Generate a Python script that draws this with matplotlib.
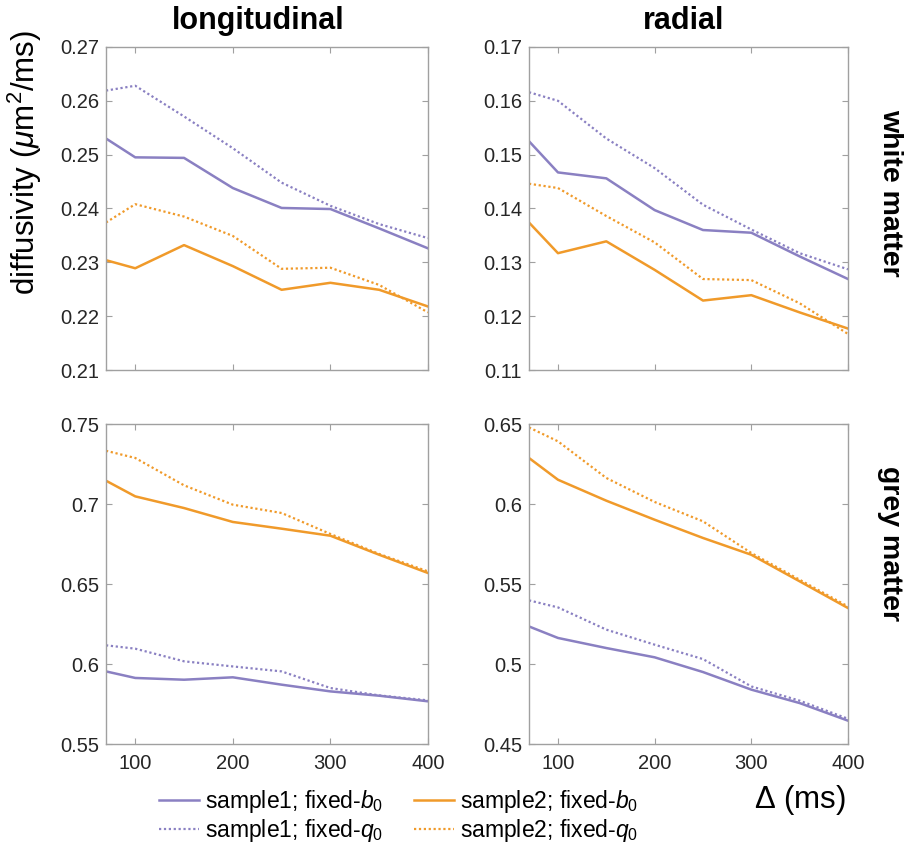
import numpy as np
import matplotlib
matplotlib.use("Agg")
import matplotlib.pyplot as plt
from matplotlib.lines import Line2D

plt.rcParams['font.family'] = ['Liberation Sans', 'DejaVu Sans']
plt.rcParams['mathtext.fontset'] = 'custom'
plt.rcParams['mathtext.rm'] = 'Liberation Sans'
plt.rcParams['mathtext.it'] = 'Liberation Sans:italic'

# diffusion time (ms)
delta = [70, 100, 150, 200, 250, 300, 350, 400]

# white matter, longitudinal
wm_long_s1_b = [0.2530, 0.2495, 0.2494, 0.2438, 0.2401, 0.2399, 0.2363, 0.2326]
wm_long_s1_q = [0.2619, 0.2628, 0.2571, 0.2512, 0.2448, 0.2405, 0.2371, 0.2345]
wm_long_s2_b = [0.2304, 0.2289, 0.2332, 0.2293, 0.2249, 0.2262, 0.2249, 0.2218]
wm_long_s2_q = [0.2374, 0.2408, 0.2385, 0.2349, 0.2288, 0.2290, 0.2258, 0.2207]

# white matter, radial
wm_rad_s1_b = [0.1525, 0.1467, 0.1456, 0.1397, 0.1360, 0.1355, 0.1311, 0.1269]
wm_rad_s1_q = [0.1616, 0.1600, 0.1530, 0.1475, 0.1407, 0.1361, 0.1317, 0.1287]
wm_rad_s2_b = [0.1374, 0.1317, 0.1339, 0.1286, 0.1229, 0.1239, 0.1207, 0.1177]
wm_rad_s2_q = [0.1446, 0.1438, 0.1386, 0.1337, 0.1269, 0.1267, 0.1224, 0.1167]

# grey matter, longitudinal
gm_long_s1_b = [0.5954, 0.5913, 0.5902, 0.5917, 0.5871, 0.5829, 0.5802, 0.5767]
gm_long_s1_q = [0.6117, 0.6096, 0.6017, 0.5985, 0.5954, 0.5850, 0.5804, 0.5773]
gm_long_s2_b = [0.7146, 0.7048, 0.6975, 0.6888, 0.6846, 0.6802, 0.6683, 0.6569]
gm_long_s2_q = [0.7333, 0.7288, 0.7117, 0.6996, 0.6944, 0.6813, 0.6688, 0.6579]

# grey matter, radial
gm_rad_s1_b = [0.5235, 0.5163, 0.5100, 0.5042, 0.4950, 0.4840, 0.4756, 0.4646]
gm_rad_s1_q = [0.5398, 0.5354, 0.5215, 0.5121, 0.5031, 0.4860, 0.4771, 0.4658]
gm_rad_s2_b = [0.6288, 0.6152, 0.6021, 0.5902, 0.5788, 0.5683, 0.5517, 0.5350]
gm_rad_s2_q = [0.6479, 0.6392, 0.6163, 0.6013, 0.5892, 0.5694, 0.5527, 0.5360]

ylims = [(0.21, 0.27), (0.11, 0.17), (0.55, 0.75), (0.45, 0.65)]
yticks = [np.arange(0.21, 0.2701, 0.01), np.arange(0.11, 0.1701, 0.01),
          np.arange(0.55, 0.7501, 0.05), np.arange(0.45, 0.6501, 0.05)]

purple = '#8a80c2'
orange = '#f09a2a'
dots = (0, (1, 1.2))

fig = plt.figure(figsize=(9.05, 8.51), dpi=100)
positions = [[0.1171, 0.5652, 0.3558, 0.3796],
             [0.5845, 0.5652, 0.3525, 0.3796],
             [0.1171, 0.1257, 0.3558, 0.3760],
             [0.5845, 0.1257, 0.3525, 0.3760]]
panels = [(wm_long_s1_b, wm_long_s1_q, wm_long_s2_b, wm_long_s2_q),
          (wm_rad_s1_b, wm_rad_s1_q, wm_rad_s2_b, wm_rad_s2_q),
          (gm_long_s1_b, gm_long_s1_q, gm_long_s2_b, gm_long_s2_q),
          (gm_rad_s1_b, gm_rad_s1_q, gm_rad_s2_b, gm_rad_s2_q)]

axes = []
for i, (pos, data) in enumerate(zip(positions, panels)):
    ax = fig.add_axes(pos)
    s1b, s1q, s2b, s2q = data
    ax.plot(delta, s1b, color=purple, lw=1.8, ls='-')
    ax.plot(delta, s2b, color=orange, lw=1.8, ls='-')
    ax.plot(delta, s1q, color=purple, lw=1.6, ls=dots)
    ax.plot(delta, s2q, color=orange, lw=1.6, ls=dots)
    ax.set_xlim(70, 400)
    ax.set_ylim(*ylims[i])
    ax.set_yticks(yticks[i])
    ax.set_yticklabels([f'{v:g}' for v in np.round(yticks[i], 2)])
    ax.set_xticks([100, 200, 300, 400])
    if i < 2:
        ax.set_xticklabels([])
    ax.tick_params(direction='in', top=True, right=True, length=4,
                   color='#a0a0a0', labelsize=14.5, labelcolor='#262626')
    ax.tick_params(axis='x', pad=7)
    ax.tick_params(axis='y', pad=5)
    for sp in ax.spines.values():
        sp.set_color('#a0a0a0')
        sp.set_linewidth(1.0)
    axes.append(ax)

axes[0].set_title('longitudinal', fontsize=22, fontweight='bold', pad=13, x=0.472)
axes[1].set_title('radial', fontsize=22, fontweight='bold', pad=13, x=0.486)

fig.text(0.0276, 0.8085, r'diffusivity ($\mu$m$^2$/ms)', fontsize=22.5,
         rotation=90, ha='center', va='center')
fig.text(0.983, 0.773, 'white matter', rotation=-90, fontsize=20.5, fontweight='bold',
         ha='center', va='center')
fig.text(0.983, 0.361, 'grey matter', rotation=-90, fontsize=20.5, fontweight='bold',
         ha='center', va='center')
fig.text(0.935, 0.06, r'$\Delta$ (ms)', fontsize=22.5, ha='right', va='center')

handles = [Line2D([], [], color=purple, lw=1.8),
           Line2D([], [], color=purple, lw=1.6, ls=dots),
           Line2D([], [], color=orange, lw=1.8),
           Line2D([], [], color=orange, lw=1.6, ls=dots)]
labels = [r'sample1; fixed-$\mathit{b}_\mathit{0}$',
          r'sample1; fixed-$\mathit{q}_\mathit{0}$',
          r'sample2; fixed-$\mathit{b}_\mathit{0}$',
          r'sample2; fixed-$\mathit{q}_\mathit{0}$']
fig.legend(handles, labels, ncol=2, loc='center', bbox_to_anchor=(0.44, 0.041),
           frameon=False, fontsize=16.5, handlelength=1.75, handletextpad=0.25,
           columnspacing=1.35, labelspacing=0.1)

fig.savefig('out.png', dpi=100)
